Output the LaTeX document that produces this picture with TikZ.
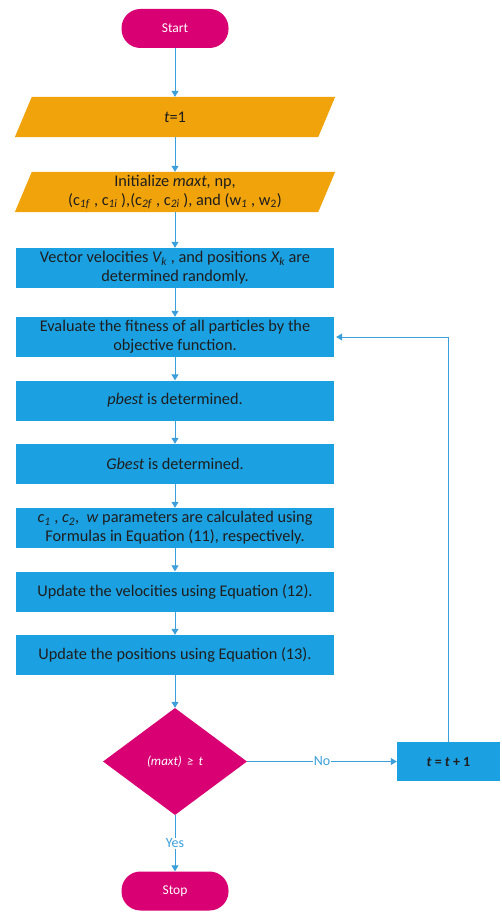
\documentclass[tikz,border=0pt]{standalone}
\usepackage{fontspec}
\setmainfont{Carlito}
\usetikzlibrary{arrows.meta,shapes.geometric,backgrounds,calc}
\definecolor{mblue}{HTML}{1BA1E2}
\definecolor{mamber}{HTML}{F0A30A}
\definecolor{mmag}{HTML}{D80073}
\definecolor{lnk}{HTML}{3A9FDB}
\definecolor{txt}{HTML}{1E1E1E}
\begin{document}
\begin{tikzpicture}[x=1pt,y=-1pt,
  proc/.style={fill=mblue, text=txt, minimum width=318pt, minimum height=40pt, inner sep=0pt, align=center, font=\fontsize{16.3}{19}\selectfont},
  term/.style={fill=mmag, rounded corners=19pt, minimum width=107pt, minimum height=39pt, text=white, inner sep=0pt, font=\fontsize{13.5}{15}\selectfont},
  io/.style={minimum width=320pt, minimum height=40pt, inner sep=0pt, text=txt, align=center, font=\fontsize{16.3}{19}\selectfont},
  dec/.style={diamond, fill=mmag, minimum width=144pt, minimum height=107pt, inner sep=0pt, text=white, font=\fontsize{13}{15}\selectfont\itshape},
  flow/.style={draw=lnk, line width=1pt, -{Triangle[width=7pt,length=6pt]}},
  lbl/.style={fill=white, text=lnk, inner sep=1pt, font=\fontsize{14}{16}\selectfont}]
\useasboundingbox (0,0) rectangle (502,912);
\node[term] (start) at (175,28.5) {Start};
\node[io] (t1) at (175,117) {\textit{t}=1};
\node[io] (init) at (175,192) {Initialize \textit{maxt,} np,\\(c\textsubscript{\textit{1f}} , c\textsubscript{\textit{1i}} ),(c\textsubscript{\textit{2f}} , c\textsubscript{\textit{2i}} ), and (w\textsubscript{\textit{1}} , w\textsubscript{2})};
\begin{scope}[on background layer]
\foreach \n in {t1,init}{
  \fill[mamber] (\n.south west) -- ($(\n.north west)+(17,0)$) -- (\n.north east) -- ($(\n.south east)+(-17,0)$) -- cycle;
}
\end{scope}
\node[proc] (vec) at (175,268) {Vector velocities \textit{V\textsubscript{k}} , and positions \textit{X\textsubscript{k}} are\\determined randomly.};
\node[proc] (eval) at (175,337) {Evaluate the fitness of all particles by the\\objective function.};
\node[proc] (pb) at (175,400.5) {\textit{pbest} is determined.};
\node[proc] (gb) at (175,464) {\textit{Gbest} is determined.};
\node[proc] (cw) at (175,528) {\textit{c\textsubscript{1}} , \textit{c\textsubscript{2}},\ \ \textit{w} parameters are calculated using\\Formulas in Equation (11), respectively.};
\node[proc] (uv) at (175,591.5) {Update the velocities using Equation (12).};
\node[proc] (up) at (175,655) {Update the positions using Equation (13).};
\node[dec] (dec) at (175,761.5) {(maxt)\, ≥\, t};
\node[proc, minimum width=103pt, minimum height=39pt, font=\fontsize{14}{16}\selectfont\bfseries] (tp) at (448.5,761.5) {\textit{t} = \textit{t} + 1};
\node[term] (stop) at (175,891) {Stop};
\draw[flow] (start) -- (t1);
\draw[flow] (t1) -- (init);
\draw[flow] (init) -- (vec);
\draw[flow] (vec) -- (eval);
\draw[flow] (eval) -- (pb);
\draw[flow] (pb) -- (gb);
\draw[flow] (gb) -- (cw);
\draw[flow] (cw) -- (uv);
\draw[flow] (uv) -- (up);
\draw[flow] (up) -- (dec);
\draw[flow] (dec.east) -- node[lbl] {No} (tp.west);
\draw[flow] (dec.south) -- node[lbl] {Yes} (stop.north);
\draw[flow] (tp.north) |- ($(eval.east)+(2,0)$);
\end{tikzpicture}
\end{document}
